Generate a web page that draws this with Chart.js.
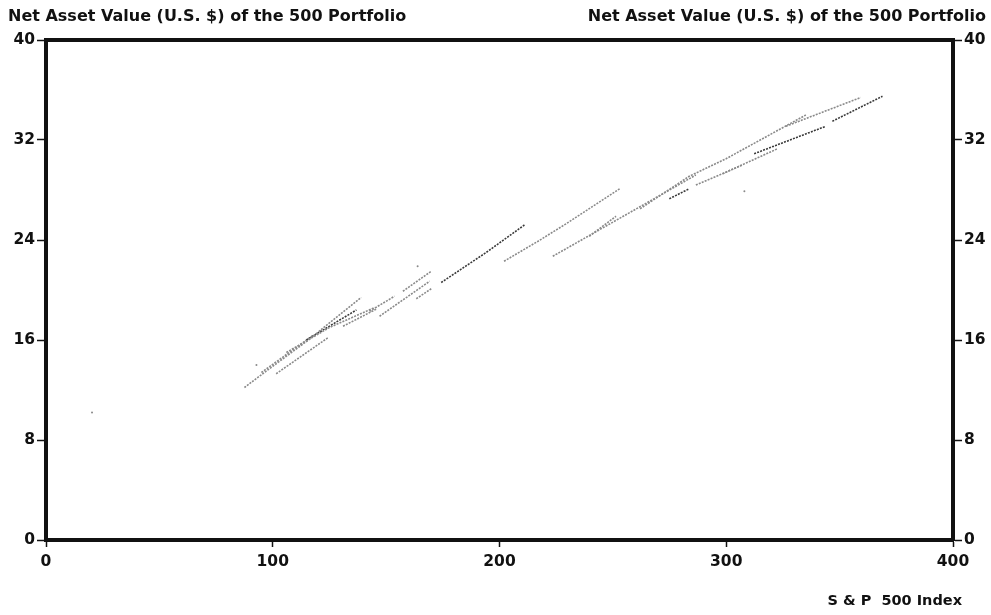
<!DOCTYPE html>
<html>
<head>
<meta charset="utf-8">
<script src="https://cdn.jsdelivr.net/npm/chart.js@4.4.1/dist/chart.umd.min.js"></script>
<style>
  html, body { margin: 0; padding: 0; background: #fff; }
  #wrap { width: 991px; height: 615px; position: relative; }
</style>
</head>
<body>
<div id="wrap"><canvas id="navChart"></canvas></div>
<script>
// S&P 500 index (x) vs net asset value (y), short runs
const strandX = [
    [87.5, 100, 115, 139],
    [101.5, 124.5],
    [106, 125, 145],
    [114.8, 136.9],
    [131, 146],
    [142.7, 153.7],
    [157.4, 169.9],
    [147.1, 169.2],
    [163.3, 169.9],
    [174.3, 194.1, 211],
    [202, 217, 229.4, 253],
    [223.5, 241, 286.6],
    [239.6, 251.4],
    [274.9, 283.7],
    [262, 283.7, 299.9, 335.1],
    [326.3, 359.3],
    [312.3, 343.9],
    [298.4, 322.6],
    [346.8, 368.9],
    [286.6, 307.2],
    [95, 118]
];
const strandY = [
    [12.2, 13.9, 15.9, 19.4],
    [13.3, 16.2],
    [15.0, 17.0, 18.6],
    [16.0, 18.4],
    [17.1, 18.5],
    [18.3, 19.5],
    [19.9, 21.5],
    [17.9, 20.7],
    [19.3, 20.1],
    [20.6, 23.0, 25.2],
    [22.3, 23.9, 25.3, 28.1],
    [22.7, 24.5, 29.2],
    [24.3, 25.9],
    [27.3, 28.1],
    [26.5, 29.1, 30.5, 34.0],
    [33.1, 35.4],
    [30.9, 33.1],
    [29.3, 31.3],
    [33.5, 35.5],
    [28.4, 30.0],
    [13.4, 16.4]
];
const strayX = [20.3, 92.8, 163.9, 308];
const strayY = [10.2, 14.0, 21.9, 27.9];

const xTicks = [0, 100, 200, 300, 400];
const yTicks = [0, 8, 16, 24, 32, 40];

const headerText = "Net Asset Value (U.S. $) of the 500 Portfolio";
const xTitle = "S & P  500 Index";

// darker runs in the scan
const darkRuns = [3, 9, 13, 16, 18];

let datasets = strandX.map((xs, i) => ({
    type: "line",
    data: xs.map((x, j) => ({ x: x, y: strandY[i][j] })),
    borderColor: darkRuns.includes(i) ? "#3a3a3a" : "#8a8a8a",
    borderWidth: 1.6,
    borderDash: [2, 1.2],
    pointRadius: 0,
    fill: false,
    tension: 0,
    yAxisID: "y"
}));

datasets.push({
    type: "scatter",
    data: strayX.map((x, j) => ({ x: x, y: strayY[j] })),
    backgroundColor: "#8a8a8a",
    pointRadius: 1,
    pointBorderWidth: 0,
    yAxisID: "y"
});

const font = { family: "'DejaVu Sans', sans-serif", size: 15.5, weight: "bold" };

// header and x title text
const textPlugin = {
    id: "texts",
    afterDraw(chart) {
        let ctx = chart.ctx;
        ctx.save();
        ctx.fillStyle = "#111";
        ctx.font = "bold 16px 'DejaVu Sans', sans-serif";
        ctx.textBaseline = "middle";
        ctx.textAlign = "left";
        ctx.fillText(headerText, 8, 17);
        ctx.textAlign = "right";
        ctx.fillText(headerText, 986, 17);
        ctx.font = "bold 14.5px 'DejaVu Sans', sans-serif";
        ctx.fillText(xTitle, 962, 601);
        ctx.restore();
    }
};

function yAxis(pos, w) {
    return {
        type: "linear",
        position: pos,
        min: 0,
        max: 40,
        afterBuildTicks: s => { s.ticks = yTicks.map(v => ({ value: v })); },
        afterFit: s => { s.width = w; },
        ticks: { color: "#111", font: font, padding: 2 },
        grid: { drawOnChartArea: false, tickLength: 9, tickWidth: 1.5, tickColor: "#111" },
        border: { display: true, width: 4, color: "#111" }
    };
}

new Chart(document.getElementById("navChart"), {
    data: { datasets: datasets },
    options: {
        responsive: true,
        maintainAspectRatio: false,
        animation: false,
        layout: { padding: 0 },
        plugins: { legend: { display: false }, tooltip: { enabled: false } },
        scales: {
            x: {
                type: "linear",
                position: "bottom",
                min: 0,
                max: 400,
                afterBuildTicks: s => { s.ticks = xTicks.map(v => ({ value: v })); },
                afterFit: s => { s.height = 75; },
                ticks: { color: "#111", font: font, padding: 6, maxRotation: 0 },
                grid: { drawOnChartArea: false, tickLength: 7, tickWidth: 1.5, tickColor: "#111" },
                border: { display: true, width: 4, color: "#111" }
            },
            xTop: {
                type: "linear",
                position: "top",
                min: 0,
                max: 400,
                afterFit: s => { s.height = 40; },
                ticks: { display: false },
                grid: { display: false },
                border: { display: true, width: 4, color: "#111" }
            },
            y: yAxis("left", 46),
            y2: yAxis("right", 38)
        }
    },
    plugins: [textPlugin]
});
</script>
</body>
</html>
